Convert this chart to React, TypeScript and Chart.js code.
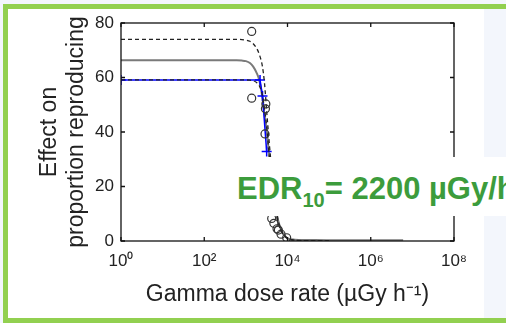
import React, { useEffect, useRef } from 'react';
import { Chart, registerables } from 'chart.js';

Chart.register(...registerables);

// Gamma dose rate (µGy/h) sample points along the fitted curves
const curveDose = [1, 10, 100, 300, 600, 800, 1000, 1250, 1500, 1800, 2100, 2500, 2800, 3200, 3600, 4000, 4500, 5000, 5600, 6300, 7100, 8000, 10000, 15000, 30000, 100000, 1000000, 6000000];
// dashed fit, highest plateau (~74)
const fitHigh = [74, 74, 74, 74, 74, 73.9, 73.7, 73.3, 72.4, 70.8, 68.5, 64, 58, 46.5, 37, 29, 21, 14.5, 9.5, 6, 4, 2.5, 1, 0.3, 0.1, 0, null, null];
// grey solid fit (~66)
const fitMid = [66.3, 66.3, 66.3, 66.3, 66.3, 66.2, 66, 65.3, 64, 61.8, 59, 52.5, 46.5, 40, 32, 26, 19.5, 14, 9.5, 6.2, 4, 2.5, 1, 0.5, 0.4, 0.3, 0.3, 0.3];
// dashed fit, lowest plateau (~59)
const fitLow = [59.1, 59.1, 59.1, 59.1, 59.1, 59.1, 59.1, 59, 58.8, 58.2, 57, 53.5, 48.5, 41, 32, 26, 19, 13, 8.5, 5.5, 3.5, 2.2, 0.9, 0.3, 0.1, 0.05, null, null];

// blue "+" observations
const blueDose = [1, 2190, 2510, 3160];
const blueEffect = [59.1, 59.1, 53.2, 32.8];

// open circle observations
const circleDose = [1380, 1380, 3020, 2950, 2880, 4170, 4700, 5600, 6030, 7000, 9550];
const circleEffect = [76.9, 52.4, 50.3, 48.5, 39.3, 8.3, 6.5, 4.5, 4.0, 2.5, 1.2];

const xTickValues = [1, 100, 10000, 1000000, 100000000];
const xTickLabels = ['10⁰', '10²', '10⁴', '10⁶', '10⁸'];
const yTickValues = [0, 20, 40, 60, 80];

const toPts = (xs: number[], ys: (number | null)[]) =>
  xs.map((x, i) => ({ x, y: ys[i] })).filter((p) => p.y !== null) as { x: number; y: number }[];

const framePlugin = {
  id: 'matlabFrame',
  afterDatasetsDraw(chart: any) {
    const { ctx, chartArea } = chart;
    const { left, right, top, bottom } = chartArea;
    const xs = chart.scales.x;
    const ys = chart.scales.y;
    ctx.save();
    ctx.strokeStyle = '#111';
    ctx.lineWidth = 1.3;
    ctx.strokeRect(left, top, right - left, bottom - top);
    const tl = 4;
    ctx.beginPath();
    xTickValues.forEach((v) => {
      const px = xs.getPixelForValue(v);
      ctx.moveTo(px, bottom);
      ctx.lineTo(px, bottom - tl);
      ctx.moveTo(px, top);
      ctx.lineTo(px, top + tl);
    });
    yTickValues.forEach((v) => {
      const py = ys.getPixelForValue(v);
      ctx.moveTo(left, py);
      ctx.lineTo(left + tl, py);
      ctx.moveTo(right, py);
      ctx.lineTo(right - tl, py);
    });
    ctx.stroke();
    ctx.restore();
  },
};

export default function App() {
  const ref = useRef<HTMLCanvasElement | null>(null);

  useEffect(() => {
    if (!ref.current) return;
    const chart = new Chart(ref.current, {
      type: 'scatter',
      data: {
        datasets: [
          {
            label: 'Circles',
            data: toPts(circleDose, circleEffect),
            showLine: false,
            pointStyle: 'circle',
            pointRadius: 4,
            borderColor: '#333',
            backgroundColor: 'rgba(0,0,0,0)',
            borderWidth: 1.2,
            order: 1,
          },
          {
            label: 'Blue obs',
            data: toPts(blueDose, blueEffect),
            showLine: true,
            pointStyle: 'cross',
            pointRadius: 5,
            borderColor: '#0000ff',
            backgroundColor: '#0000ff',
            borderWidth: 1.5,
            order: 4,
          },
          {
            label: 'Fit high',
            data: toPts(curveDose, fitHigh),
            showLine: true,
            pointRadius: 0,
            borderColor: '#222',
            borderWidth: 1.3,
            borderDash: [4, 3],
            cubicInterpolationMode: 'monotone',
            order: 2,
          },
          {
            label: 'Fit low',
            data: toPts(curveDose, fitLow),
            showLine: true,
            pointRadius: 0,
            borderColor: '#222',
            borderWidth: 1.3,
            borderDash: [4, 3],
            cubicInterpolationMode: 'monotone',
            order: 3,
          },
          {
            label: 'Fit mid',
            data: toPts(curveDose, fitMid),
            showLine: true,
            pointRadius: 0,
            borderColor: '#7a7a7a',
            borderWidth: 2,
            cubicInterpolationMode: 'monotone',
            order: 5,
          },
        ],
      },
      options: {
        animation: false,
        responsive: false,
        maintainAspectRatio: false,
        events: [],
        layout: { padding: { left: 0, top: 23, right: 52, bottom: 0 } },
        plugins: { legend: { display: false }, tooltip: { enabled: false } },
        scales: {
          x: {
            type: 'logarithmic',
            min: 1,
            max: 100000000,
            grid: { display: false, drawTicks: false },
            border: { display: false },
            afterBuildTicks: (s: any) => {
              s.ticks = xTickValues.map((v) => ({ value: v }));
            },
            afterFit: (s: any) => {
              s.height = 82;
            },
            ticks: {
              autoSkip: false,
              maxRotation: 0,
              minRotation: 0,
              padding: 10,
              color: '#222',
              font: { family: '"Liberation Sans", Arial, sans-serif', size: 17 },
              callback: (v: any) => {
                const i = xTickValues.indexOf(Number(v));
                return i >= 0 ? xTickLabels[i] : '';
              },
            },
            title: {
              display: true,
              text: 'Gamma dose rate (µGy h⁻¹)',
              color: '#222',
              font: { family: '"Liberation Sans", Arial, sans-serif', size: 23, lineHeight: 1.174 },
              padding: { top: 0, bottom: 14.5 },
            },
          },
          y: {
            min: 0,
            max: 80,
            grid: { display: false, drawTicks: false },
            border: { display: false },
            afterBuildTicks: (s: any) => {
              s.ticks = yTickValues.map((v) => ({ value: v }));
            },
            afterFit: (s: any) => {
              s.width = 121;
            },
            ticks: {
              padding: 7,
              color: '#222',
              font: { family: '"Liberation Sans", Arial, sans-serif', size: 17 },
            },
            title: {
              display: true,
              text: ['Effect on', 'proportion reproducing'],
              color: '#222',
              font: { family: '"Liberation Sans", Arial, sans-serif', size: 23, lineHeight: 1.174 },
              padding: { top: 36.5, bottom: 0 },
            },
          },
        },
      },
      plugins: [framePlugin],
    } as any);
    return () => chart.destroy();
  }, []);

  return (
    <div
      style={{
        position: 'absolute',
        left: 0,
        top: 0,
        width: 506,
        height: 323,
        overflow: 'hidden',
        background: '#f3f6fc',
      }}
    >
      <div
        style={{
          position: 'absolute',
          left: 3,
          top: 4,
          width: 600,
          height: 319,
          boxSizing: 'border-box',
          border: '5px solid #92d050',
          background: '#f3f6fc',
        }}
      />
      <div style={{ position: 'absolute', left: 8, top: 9, width: 476, height: 309, background: '#ffffff' }} />
      <canvas ref={ref} width={506} height={323} style={{ position: 'absolute', left: 0, top: 0, width: 506, height: 323 }} />
      <div
        style={{
          position: 'absolute',
          left: 228,
          top: 157,
          width: 300,
          height: 59,
          background: '#ffffff',
          overflow: 'hidden',
        }}
      >
        <div
          style={{
            position: 'absolute',
            left: 9,
            top: 16,
            whiteSpace: 'nowrap',
            fontFamily: '"Liberation Sans", Arial, sans-serif',
            fontWeight: 'bold',
            fontSize: 31,
            lineHeight: '31px',
            color: '#3c9c3c',
          }}
        >
          EDR
          <span style={{ fontSize: 20, lineHeight: 0, position: 'relative', top: 8 }}>10</span>= 2200 µGy/h
        </div>
      </div>
    </div>
  );
}
